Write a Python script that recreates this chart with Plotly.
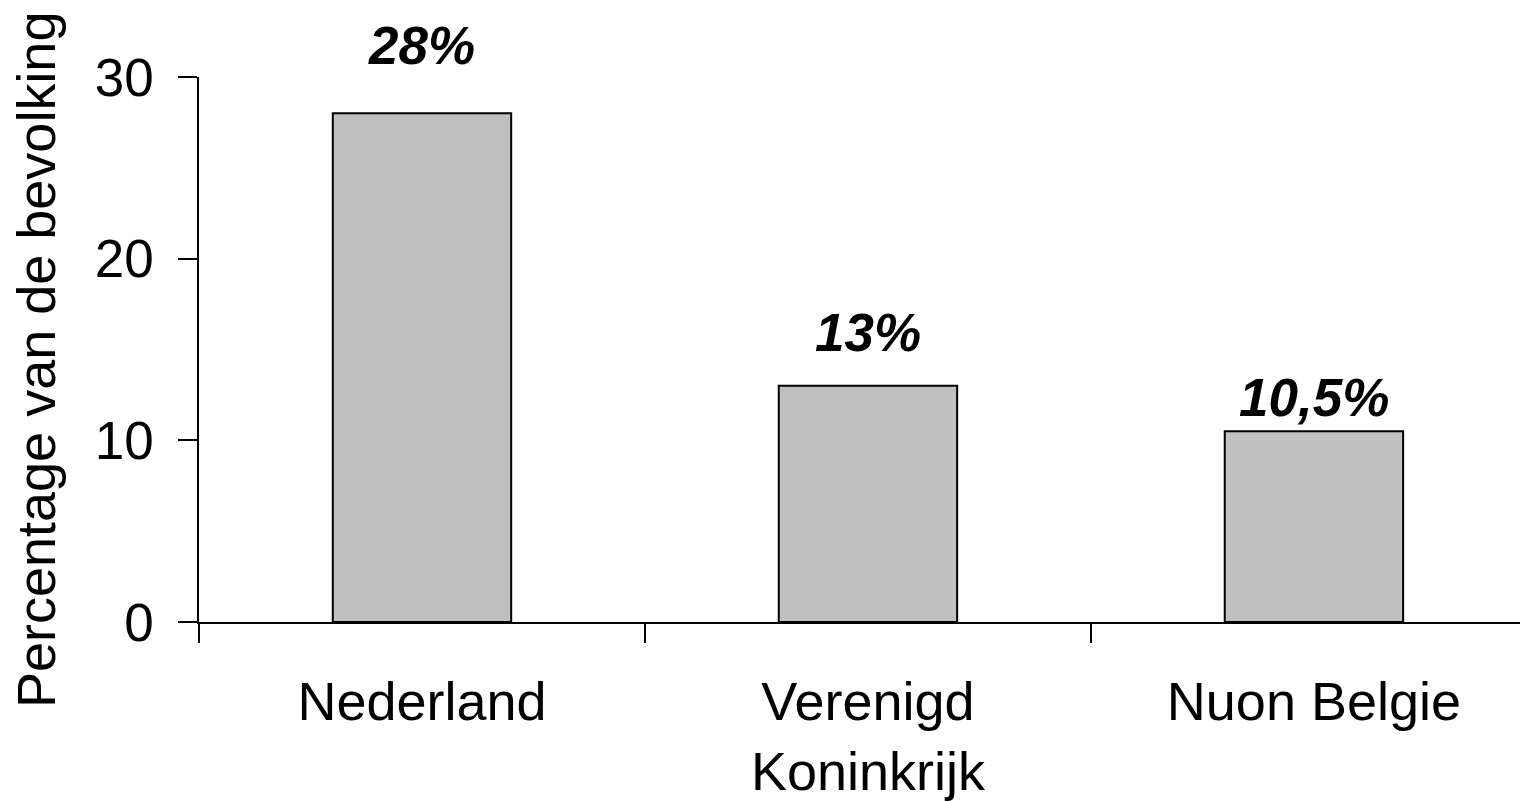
import plotly.graph_objects as go

categories = ["Nederland", "Verenigd<br>Koninkrijk", "Nuon Belgie"]
values = [28, 13, 10.5]
value_labels = ["28%", "13%", "10,5%"]
label_shift_px = [68, 53, 34]
y_ticks = [0, 10, 20, 30]

FONT = "Liberation Sans, Arial, sans-serif"

fig = go.Figure()
fig.add_trace(go.Bar(
    x=categories,
    y=values,
    width=0.4,
    marker=dict(color="#c0c0c0", line=dict(color="black", width=2)),
    showlegend=False,
    hoverinfo="skip",
))

for cat, v, lab, sh in zip(categories, values, value_labels, label_shift_px):
    fig.add_annotation(
        x=cat, y=v, text="<b><i>" + lab + "</i></b>",
        showarrow=False, yanchor="middle", xanchor="center", yshift=sh,
        font=dict(family=FONT, size=53, color="black"),
    )

fig.add_annotation(
    xref="paper", yref="paper", x=-0.1225, y=0.481,
    text="Percentage van de bevolking", textangle=-90,
    showarrow=False, xanchor="center", yanchor="middle", borderpad=0,
    font=dict(family=FONT, size=54, color="black"),
)

fig.update_layout(
    width=1528, height=801,
    margin=dict(l=191, r=8, t=69, b=182),
    paper_bgcolor="white", plot_bgcolor="white",
    font=dict(family=FONT, size=54, color="black"),
    xaxis=dict(
        type="category",
        range=[-0.5, 2.48],
        showline=True, linecolor="black", linewidth=1.5,
        ticks="outside", tickson="boundaries", ticklen=19, tickwidth=1.5, tickcolor="black",
        showgrid=False, zeroline=False,
        ticklabelstandoff=31,
        tickfont=dict(family=FONT, size=54, color="black"),
    ),
    yaxis=dict(
        range=[0, 30],
        tickvals=y_ticks,
        showline=True, linecolor="black", linewidth=1.5,
        ticks="outside", ticklen=19, tickwidth=1.5, tickcolor="black",
        showgrid=False, zeroline=False,
        ticklabelstandoff=14,
        tickfont=dict(family=FONT, size=53, color="black"),
    ),
)

fig.write_html("out.html")
